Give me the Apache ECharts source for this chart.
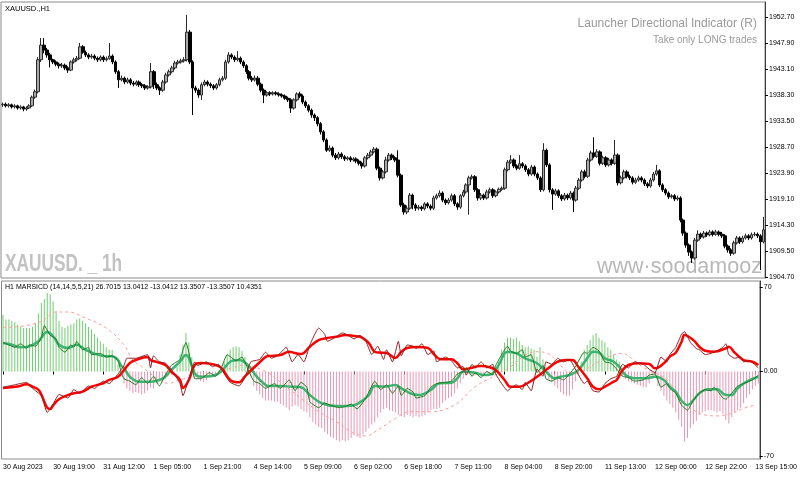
<!DOCTYPE html>
<html>
<head>
<meta charset="utf-8">
<script src="https://cdn.jsdelivr.net/npm/echarts@6.0.0/dist/echarts.min.js"></script>
<style>
html, body { margin: 0; padding: 0; background: #fff; }
#main { width: 800px; height: 477px; }
</style>
</head>
<body>
<div id="main"></div>
<script>
// XAUUSD H1, 30 Aug - 13 Sep 2023
var tickLabels = ['30 Aug 2023', '30 Aug 19:00', '31 Aug 12:00', '1 Sep 05:00', '1 Sep 21:00', '4 Sep 14:00',
  '5 Sep 09:00', '6 Sep 02:00', '6 Sep 18:00', '7 Sep 11:00', '8 Sep 04:00', '8 Sep 20:00',
  '11 Sep 13:00', '12 Sep 06:00', '12 Sep 22:00', '13 Sep 15:00'];
var priceTicks = [1904.70, 1909.50, 1914.30, 1919.10, 1923.90, 1928.70, 1933.50, 1938.30, 1943.10, 1947.90, 1952.70];
var oscTicks = [-70, 0, 70];

var firstOpen = 1936.5;
var closes = [1936.6,1936.3,1936.5,1936.1,1936.3,1935.9,1936.1,1935.7,1935.9,1936.3,
  1937.9,1938.9,1944.8,1947.5,1946.6,1945.7,1944.8,1944.4,1944.0,1943.7,
  1943.8,1943.3,1942.9,1944.4,1944.8,1945.1,1947.2,1946.2,1945.7,1945.3,
  1945.5,1945.1,1944.8,1945.3,1944.8,1945.0,1945.5,1944.4,1942.6,1941.1,
  1941.4,1940.7,1941.1,1940.5,1940.3,1940.7,1940.2,1940.0,1939.6,1939.8,
  1942.6,1940.2,1939.6,1939.2,1940.7,1942.0,1942.6,1943.3,1944.2,1944.4,
  1944.6,1944.8,1949.9,1944.4,1939.6,1939.2,1938.3,1940.2,1940.7,1940.3,
  1940.0,1939.6,1940.2,1941.1,1941.4,1944.4,1945.7,1945.3,1944.8,1945.1,
  1944.4,1943.7,1942.6,1941.4,1941.1,1941.4,1940.3,1939.2,1938.3,1938.7,
  1938.5,1938.7,1938.5,1938.3,1938.1,1937.7,1937.4,1935.9,1937.4,1938.5,
  1938.1,1937.0,1936.3,1935.5,1934.6,1934.1,1933.0,1931.5,1930.0,1928.1,
  1928.5,1927.2,1926.7,1927.4,1926.9,1926.5,1926.7,1926.3,1926.5,1926.1,
  1925.7,1925.2,1926.7,1927.2,1927.8,1928.3,1924.8,1923.0,1924.1,1926.3,
  1927.2,1926.7,1926.3,1923.5,1918.0,1916.7,1917.4,1919.8,1918.0,1917.4,
  1917.6,1917.3,1918.2,1917.8,1917.4,1919.3,1919.7,1920.2,1918.9,1918.4,
  1918.9,1919.7,1918.2,1917.6,1919.7,1920.4,1921.7,1923.0,1923.2,1920.8,
  1919.3,1919.8,1919.3,1920.4,1920.8,1919.7,1920.4,1920.9,1921.1,1924.5,
  1925.9,1926.3,1925.2,1924.8,1925.6,1925.2,1924.5,1923.7,1925.0,1923.7,
  1923.0,1920.8,1928.1,1925.4,1920.8,1920.0,1920.6,1919.7,1919.1,1919.8,
  1919.3,1920.2,1918.9,1921.1,1922.6,1924.1,1923.3,1926.3,1927.6,1927.0,
  1927.8,1925.7,1926.7,1925.4,1926.3,1925.7,1927.2,1922.1,1923.0,1924.1,
  1923.3,1923.0,1922.2,1922.6,1923.0,1922.6,1921.9,1921.5,1922.6,1923.7,
  1924.3,1921.7,1920.8,1920.2,1919.5,1919.7,1919.1,1919.3,1915.2,1912.8,
  1910.6,1909.3,1908.2,1911.5,1912.6,1912.1,1912.8,1912.5,1913.0,1912.6,
  1913.0,1912.6,1912.3,1910.4,1909.7,1909.1,1911.0,1911.9,1911.2,1911.9,
  1912.3,1911.9,1912.5,1912.6,1912.3,1911.2,1913.4];
var highs = [1936.9,1936.9,1936.8,1936.7,1936.6,1936.5,1936.4,1936.3,1936.2,1936.6,
  1938.2,1939.3,1945.3,1948.8,1948.8,1947.0,1946.1,1945.0,1944.7,1944.3,
  1944.2,1944.1,1943.6,1944.7,1945.2,1945.5,1947.9,1947.5,1946.5,1946.0,
  1945.9,1945.8,1945.4,1945.6,1945.6,1945.4,1947.9,1945.8,1944.7,1942.9,
  1941.9,1941.7,1941.5,1941.4,1940.9,1941.0,1941.0,1940.5,1940.3,1940.1,
  1944.2,1942.9,1940.6,1939.9,1941.1,1942.4,1943.0,1943.7,1944.6,1944.8,
  1945.0,1945.3,1953.1,1950.3,1944.7,1940.0,1939.5,1940.6,1941.1,1941.0,
  1940.6,1940.3,1940.5,1941.5,1941.8,1944.8,1946.2,1946.0,1945.6,1946.4,
  1945.4,1944.7,1944.0,1942.9,1941.8,1941.9,1941.8,1940.6,1939.5,1939.0,
  1939.0,1939.0,1939.0,1938.8,1938.6,1938.4,1938.0,1937.7,1937.7,1938.8,
  1938.9,1938.4,1937.3,1936.6,1935.8,1934.9,1934.4,1933.3,1931.8,1930.3,
  1929.0,1928.8,1927.6,1927.8,1927.7,1927.2,1927.0,1927.0,1926.8,1926.8,
  1926.4,1926.0,1927.0,1927.6,1928.2,1928.7,1928.6,1925.1,1924.5,1926.9,
  1927.6,1927.5,1927.0,1928.1,1923.8,1918.4,1917.9,1920.2,1920.1,1918.3,
  1918.0,1917.9,1918.5,1918.5,1918.1,1919.7,1920.1,1920.7,1920.5,1919.2,
  1919.3,1920.1,1920.0,1918.5,1920.0,1920.8,1922.0,1923.4,1923.6,1923.5,
  1921.1,1920.2,1920.1,1920.8,1921.2,1921.1,1920.7,1921.2,1921.4,1924.9,
  1926.3,1927.2,1926.6,1925.5,1927.2,1925.9,1925.5,1924.8,1925.4,1925.3,
  1924.0,1923.3,1929.4,1928.4,1925.7,1921.1,1921.0,1920.9,1920.0,1920.2,
  1920.1,1920.6,1920.5,1921.5,1923.0,1924.5,1924.5,1926.7,1928.0,1930.5,
  1928.3,1928.1,1927.1,1927.0,1926.7,1926.6,1930.0,1927.5,1923.4,1924.5,
  1924.4,1923.6,1923.3,1923.0,1923.4,1923.3,1922.9,1922.2,1923.0,1924.1,
  1925.4,1924.6,1922.0,1921.1,1920.5,1920.0,1920.0,1919.7,1919.6,1915.5,
  1913.1,1910.9,1909.6,1911.9,1913.3,1912.9,1913.2,1913.1,1913.4,1913.3,
  1913.4,1913.3,1913.0,1912.6,1910.7,1910.0,1911.4,1912.3,1912.2,1912.3,
  1912.7,1912.6,1912.9,1913.0,1912.9,1912.6,1915.8];
var lows = [1936.1,1936.0,1936.0,1935.8,1935.8,1935.6,1935.6,1935.3,1935.4,1935.7,
  1936.1,1937.6,1938.6,1944.4,1946.0,1945.2,1943.4,1944.0,1943.6,1943.2,
  1943.3,1942.9,1942.4,1942.7,1944.1,1944.5,1944.9,1945.9,1945.3,1944.9,
  1945.0,1944.7,1944.4,1944.5,1944.4,1944.5,1944.8,1944.0,1942.2,1939.6,
  1940.8,1940.3,1940.4,1940.1,1939.9,1940.0,1939.8,1939.6,1939.2,1939.3,
  1939.5,1939.4,1939.2,1938.3,1938.9,1940.4,1941.7,1942.3,1943.0,1943.9,
  1944.1,1944.3,1944.5,1944.0,1934.6,1938.7,1937.8,1937.4,1939.9,1939.9,
  1939.6,1939.2,1939.3,1939.9,1940.8,1941.1,1944.1,1944.9,1944.4,1944.5,
  1944.0,1943.3,1942.2,1941.0,1940.7,1940.8,1939.9,1938.8,1936.8,1938.0,
  1938.1,1938.2,1938.2,1938.0,1937.8,1937.4,1937.0,1935.0,1935.6,1937.1,
  1937.7,1936.6,1935.9,1935.1,1934.1,1933.5,1932.5,1931.0,1929.6,1927.8,
  1927.8,1926.8,1926.3,1926.4,1926.5,1926.1,1926.2,1925.9,1926.0,1925.7,
  1925.3,1924.7,1924.9,1926.4,1926.9,1927.5,1924.4,1922.5,1922.7,1923.8,
  1926.0,1926.3,1925.9,1923.1,1917.6,1916.2,1916.3,1917.1,1917.2,1916.9,
  1917.0,1916.9,1917.0,1917.4,1917.0,1917.1,1919.0,1919.4,1918.5,1918.0,
  1918.1,1918.6,1917.8,1917.1,1917.3,1919.4,1920.1,1916.2,1922.7,1920.4,
  1918.8,1918.9,1918.9,1919.0,1920.1,1919.3,1919.4,1920.1,1920.6,1920.8,
  1924.2,1925.6,1924.8,1924.4,1924.5,1924.8,1924.1,1923.3,1923.4,1923.3,
  1922.6,1920.4,1920.5,1925.0,1920.3,1917.1,1919.7,1919.3,1918.7,1918.8,
  1918.9,1919.0,1916.7,1918.6,1920.8,1922.3,1922.9,1923.0,1926.0,1926.6,
  1926.7,1925.3,1925.4,1925.0,1925.1,1925.3,1925.4,1921.6,1921.8,1922.7,
  1922.9,1922.6,1921.8,1921.9,1922.3,1922.2,1921.5,1921.1,1921.2,1922.3,
  1923.4,1921.3,1920.4,1919.8,1919.1,1919.2,1918.7,1918.8,1914.8,1912.3,
  1910.1,1908.6,1907.3,1907.9,1911.2,1911.7,1911.8,1912.1,1912.2,1912.2,
  1912.3,1912.2,1911.9,1910.0,1909.2,1908.6,1908.8,1910.7,1910.8,1910.9,
  1911.6,1911.5,1911.6,1912.2,1911.9,1906.0,1910.9];

// MARSICD histogram, one value per bar
var hist = [47,43,43,42,41,39,37,36,36,36,
  37,40,48,57,60,65,64,58,50,42,
  37,36,38,39,40,43,44,42,40,37,
  35,31,28,25,23,20,18,18,12,6,
  -4,-10,-14,-16,-18,-17,-18,-19,-18,-16,
  -13,-14,-10,-8,-7,-6,-4,-3,-2,4,
  14,22,32,24,12,2,-6,-8,-9,-7,
  -5,-4,-3,-2,2,8,14,18,20,21,
  20,17,12,5,-4,-12,-16,-19,-22,-24,
  -24,-24,-25,-25,-27,-28,-30,-32,-29,-28,
  -29,-31,-33,-34,-38,-42,-44,-46,-47,-50,
  -52,-54,-55,-57,-58,-57,-58,-57,-55,-53,
  -54,-55,-52,-50,-47,-44,-42,-38,-34,-31,
  -30,-32,-33,-34,-36,-37,-38,-36,-37,-38,
  -37,-38,-37,-36,-34,-32,-31,-31,-30,-26,
  -24,-22,-21,-18,-14,-10,-6,-3,-2,-4,
  -3,-2,-3,-2,-1,-2,1,3,8,18,
  24,28,28,27,28,25,22,20,21,19,
  18,12,20,10,4,-7,-9,-12,-14,-17,
  -19,-20,-20,-15,-8,-3,8,18,22,26,
  30,32,28,26,24,20,18,14,10,8,
  -4,-6,-8,-9,-10,-11,-12,-13,-13,-10,
  -6,-5,-12,-16,-20,-24,-27,-30,-34,-40,
  -46,-58,-55,-47,-44,-41,-36,-34,-33,-32,
  -32,-33,-34,-33,-35,-40,-43,-38,-34,-32,
  -30,-26,-22,-19,-15,-12,-10];

// indicator lines, [bar, value]
var redThick = [[0,-13.6],[5,-12.5],[8,-10.5],[10,-12.5],[12,-15],[13,-19],[14,-25],[15,-30],[16,-31],[17,-28],
  [19,-23],[22,-19.5],[24,-18],[27,-16.7],[30,-12.6],[34,-9.7],[36,-7],[39,-4.3],[41,1.2],[43,7],
  [45,9.5],[49,12],[50,9.5],[52,8],[55,5.4],[57,0],[60,-7],[61,-13.7],[63,-7],[65,5.4],
  [67,7],[71,6],[74,3],[77,-7],[80,-9],[82,-4],[86,5.4],[89,12],[90,12.8],[94,13.7],
  [97,16.4],[99,15.3],[101,14.5],[104,20.6],[107,26],[110,27.7],[113,28.8],[116,30.2],[119,29.4],[121,28.8],
  [124,23.6],[126,16.4],[128,15.6],[130,15.3],[133,11.2],[135,16.4],[137,19.5],[140,20.3],[144,19.5],[146,14.5],
  [148,10.4],[152,10.1],[154,6.8],[156,1.8],[158,2.6],[162,4.6],[165,3.5],[167,1.2],[170,-7],[172,-12.6],
  [175,-12.6],[178,-9.3],[181,-4.3],[184,1.2],[188,8.1],[191,9.5],[193,9.5],[195,4],[198,-5.6],[200,-12.6],
  [202,-14.7],[204,-12.6],[207,-8.4],[208,-7],[210,1.2],[212,5.4],[215,6.8],[219,6.2],[221,2.6],[224,6.8],
  [226,12.3],[228,15.6],[230,24.7],[231,30.2],[234,26],[236,20.5],[238,17.2],[241,16.4],[245,19.2],[246,20.5],
  [248,15.6],[251,9.5],[254,8.1],[256,5.4]];
var redThin = [[0,-13],[4,-11],[8,-9],[10,-14],[13,-20],[15,-34],[17,-27],[19,-19],[22,-22],[24,-15],
  [26,-18],[29,-12],[31,-14],[34,-8],[36,-10],[39,-2],[41,5],[42,11],[45,11],[49,14],
  [50,3],[51,13],[53,8],[55,7],[57,2],[60,-10],[61,-20],[63,-6],[65,8],[66,5],
  [69,8],[71,4],[73,6],[75,-2],[77,-9],[80,-12],[82,-5],[84,8],[87,10],[89,16],
  [91,11],[93,13],[96,20],[98,8],[100,14],[102,8],[104,22],[107,36],[109,31],[110,25],
  [113,29],[115,32],[117,30],[119,27],[121,30],[123,25],[125,14],[127,21],[129,10],[130,18],
  [132,8],[134,25],[135,13],[137,22],[139,21],[140,19],[142,23],[144,14],[146,17],[147,8],
  [150,12],[152,9],[154,3],[156,4],[157,-3],[159,6],[160,3],[162,8],[164,3],[166,6],
  [167,-2],[169,-10],[171,-16],[172,-14],[174,-11],[176,-15],[177,-9],[179,-16],[181,2],[183,-4],
  [184,8],[186,6],[188,11],[190,8],[192,10],[194,2],[197,-10],[198,-8],[200,-16],[202,-17],
  [204,-10],[206,-6],[208,-4],[210,6],[212,3],[214,8],[217,6],[219,2],[221,-1],[223,12],
  [225,8],[226,14],[228,20],[230,31],[231,33],[233,24],[235,19],[236,18],[238,14],[240,15],
  [241,16],[244,20],[245,23],[246,14],[248,11],[250,12],[251,8],[253,9],[256,3]];
var greenThick = [[0,23.6],[3,22.2],[6,20],[9,20.9],[12,25],[15,32.7],[17,29.2],[19,22.2],[22,19.5],[25,22.2],
  [28,18],[32,14],[35,12.6],[37,12.6],[39,9.5],[40,5],[41,2.9],[42,-1],[43,-4.3],[46,-8.4],
  [50,-8.4],[53,-7],[55,-4.3],[57,1.2],[60,8.1],[62,13.7],[63,11.2],[65,-1.5],[67,-4.3],[71,-3.7],
  [74,0],[77,8.1],[80,9.5],[83,5.4],[86,-4.3],[89,-11.2],[90,-12],[94,-12],[98,-12.6],[101,-13],
  [104,-19.5],[108,-26.3],[113,-28.6],[117,-28.6],[120,-27],[124,-19.5],[126,-12],[129,-12.6],[133,-11.2],[135,-13.9],
  [138,-18],[141,-19.5],[145,-15.3],[148,-9.8],[152,-9.3],[154,-5.6],[156,0],[160,-1],[163,-2.9],[166,-1.5],
  [168,5.4],[171,16.4],[174,15],[177,10.9],[181,6.8],[184,0],[187,-5.6],[189,-4.3],[192,-2.9],[195,1.2],
  [198,10.9],[200,16.4],[202,15.6],[204,10.9],[207,8.1],[209,3.5],[211,-2.9],[214,-5.6],[218,-5.6],[221,-4.3],
  [224,-7],[226,-12.6],[228,-16.7],[230,-24.2],[232,-27.8],[234,-23.6],[236,-18],[239,-14.7],[242,-14.7],[245,-19.5],
  [247,-19.5],[249,-13.9],[252,-8.4],[256,-4.3]];
var greenThin = [[0,24],[2,22],[4,20],[6,23],[8,19],[9,22],[11,21],[13,28],[14,38],[16,30],
  [18,27],[19,20],[21,16],[23,22],[24,20],[25,25],[27,18],[29,20],[30,14],[33,15],
  [35,12],[37,13],[39,9],[40,0],[41,-6],[43,-8],[45,-11],[47,-5],[49,-10],[51,-4],
  [53,-12],[55,-3],[57,5],[60,10],[61,18],[62,24],[64,5],[65,-6],[67,-6],[70,-1],
  [72,-4],[74,3],[76,14],[79,9],[81,12],[83,2],[85,-8],[87,-10],[89,-14],[92,-10],
  [94,-14],[97,-7],[99,-16],[101,-9],[103,-13],[104,-25],[107,-30],[109,-26],[111,-28],[114,-30],
  [116,-29],[118,-27],[120,-31],[123,-22],[124,-17],[126,-8],[128,-15],[130,-11],[132,-18],[134,-12],
  [135,-20],[137,-14],[139,-17],[140,-22],[143,-20],[145,-13],[147,-10],[150,-9],[152,-8],[154,-2],
  [156,0],[157,3],[159,-4],[160,-1],[162,-5],[164,0],[166,-3],[167,5],[169,14],[171,21],
  [172,17],[174,15],[176,18],[177,12],[179,14],[181,-1],[183,5],[184,-6],[186,-8],[188,-5],
  [190,-7],[192,-2],[194,4],[197,16],[198,15],[200,20],[202,17],[204,8],[206,7],[208,2],
  [210,-4],[212,-5],[214,-8],[217,-7],[219,-3],[221,-2],[223,-13],[225,-10],[226,-14],[228,-18],
  [230,-28],[232,-32],[234,-24],[236,-18],[238,-15],[240,-16],[241,-13],[244,-22],[245,-23],[247,-18],
  [249,-12],[251,-10],[254,-7],[256,-3]];
var signalLine = [[0,36.6],[6,37.4],[13,41.6],[18,49.3],[22,49.3],[28,44.3],[35,36],[41,22.2],[44,9.5],[47,4],
  [53,-7],[56,-9.8],[60,-7],[64,-4.3],[71,-2.9],[77,2.6],[82,5.4],[88,1.2],[90,-1.2],[96,-12.6],
  [101,-22.2],[107,-33.3],[113,-41.6],[118,-49.9],[123,-53.4],[127,-48.5],[133,-38.8],[138,-33.3],[145,-33.3],[153,-27.8],
  [160,-12.6],[164,-7],[168,-1.5],[173,5.4],[177,13.7],[181,16.4],[184,15.6],[188,8.1],[191,0],[194,-1.5],
  [200,5.4],[205,12.3],[210,15],[213,10.9],[217,3.5],[220,0],[225,-7],[229,-20.9],[234,-31.9],[238,-36],
  [242,-36.8],[247,-34.6],[251,-30.5],[255,-27.8]];

// category axis: one slot per bar, a date label every 17 bars
var cats = [];
var candles = [];
for (var i = 0; i < closes.length; i++) {
  cats.push(i % 17 === 0 ? tickLabels[i / 17] : String(i));
  var o = i === 0 ? firstOpen : closes[i - 1];
  candles.push([o, closes[i], lows[i], highs[i]]);
}

var FONT = 'Liberation Sans';
var chart = echarts.init(document.getElementById('main'), null, { renderer: 'canvas' });

var option = {
  animation: false,
  backgroundColor: '#ffffff',
  grid: [
    { left: 1, top: 2, width: 764, height: 276, show: true, borderColor: '#8a8a8a', borderWidth: 1 },
    { left: 1, top: 281, width: 764, height: 178, show: true, borderColor: '#8a8a8a', borderWidth: 1 }
  ],
  xAxis: [
    { gridIndex: 0, type: 'category', data: cats, boundaryGap: true,
      axisLine: { show: false }, axisTick: { show: false }, axisLabel: { show: false }, splitLine: { show: false } },
    { gridIndex: 1, type: 'category', data: cats, boundaryGap: true,
      axisLine: { show: false },
      axisTick: { show: true, interval: 16, alignWithLabel: true, length: 3, lineStyle: { color: '#000' } },
      axisLabel: { interval: 16, align: 'left', margin: 5, fontSize: 7, fontFamily: FONT, color: '#000' },
      splitLine: { show: false } }
  ],
  yAxis: [
    { gridIndex: 0, type: 'value', position: 'right', min: 1904.515, max: 1955.47,
      axisLine: { show: true, lineStyle: { color: '#3c3c3c' } },
      axisTick: { show: true, length: 3, customValues: priceTicks, lineStyle: { color: '#000' } },
      axisLabel: { customValues: priceTicks, margin: 4, fontSize: 7, fontFamily: FONT, color: '#000',
        formatter: function (v) { return v.toFixed(2); } },
      splitLine: { show: false } },
    { gridIndex: 1, type: 'value', position: 'right', min: -72.5, max: 75,
      axisLine: { show: true, lineStyle: { color: '#3c3c3c' } },
      axisTick: { show: true, length: 3, customValues: oscTicks, lineStyle: { color: '#000' } },
      axisLabel: { customValues: oscTicks, margin: 4, fontSize: 7, fontFamily: FONT, color: '#000',
        formatter: function (v) { return v === 0 ? '0.00' : String(v); } },
      splitLine: { show: false } }
  ],
  graphic: [
    { type: 'text', left: 5, top: 5, z: 10, style: { text: 'XAUUSD.,H1', fontSize: 7.5, fontFamily: FONT, fill: '#000' } },
    { type: 'text', right: 43, top: 18, z: 10, style: { text: 'Launcher Directional Indicator (R)', fontSize: 12, fontFamily: FONT, fill: '#9a9a9a' } },
    { type: 'text', right: 43, top: 35, z: 10, style: { text: 'Take only LONG trades', fontSize: 10, fontFamily: FONT, fill: '#9a9a9a' } },
    { type: 'text', x: 5, y: 252, scaleX: 0.72, z: 0, style: { text: 'XAUUSD. _ 1h', fontSize: 24, fontWeight: 'bold', fontFamily: FONT, fill: '#c2c2c2' } },
    { type: 'text', left: 597, top: 256, z: 0, style: { text: 'www·soodamooz', fontSize: 21.5, fontFamily: FONT, fill: '#b8b8b8' } },
    { type: 'text', left: 5, top: 284, z: 10, style: { text: 'H1 MARSICD (14,14,5,5,21) 26.7015 13.0412 -13.0412 13.3507 -13.3507 10.4351', fontSize: 7, fontFamily: FONT, fill: '#000' } }
  ],
  series: [
    { name: 'XAUUSD', type: 'candlestick', xAxisIndex: 0, yAxisIndex: 0, data: candles, barWidth: 3,
      itemStyle: { color: '#a8a8a8', color0: '#000000', borderColor: '#2a2a2a', borderColor0: '#000000', borderWidth: 1 } },
    { name: 'hist', type: 'bar', xAxisIndex: 1, yAxisIndex: 1, data: hist, barWidth: 1,
      itemStyle: { color: function (p) { return p.value >= 0 ? '#6fcd6f' : '#e996b4'; } } },
    { name: 'signal', type: 'line', xAxisIndex: 1, yAxisIndex: 1, data: signalLine, symbol: 'none', smooth: 0.4,
      lineStyle: { color: '#ff9c9c', width: 1, type: [3, 3] } },
    { name: 'greenThick', type: 'line', xAxisIndex: 1, yAxisIndex: 1, data: greenThick, symbol: 'none', smooth: 0.4,
      lineStyle: { color: '#3cb371', width: 2.5 } },
    { name: 'redThick', type: 'line', xAxisIndex: 1, yAxisIndex: 1, data: redThick, symbol: 'none', smooth: 0.4,
      lineStyle: { color: '#ff0000', width: 2.5 } },
    { name: 'greenThin', type: 'line', xAxisIndex: 1, yAxisIndex: 1, data: greenThin, symbol: 'none', smooth: 0.15,
      lineStyle: { color: '#1f7a1f', width: 1 } },
    { name: 'redThin', type: 'line', xAxisIndex: 1, yAxisIndex: 1, data: redThin, symbol: 'none', smooth: 0.15,
      lineStyle: { color: '#8e2323', width: 1 } }
  ]
};
chart.setOption(option);
</script>
</body>
</html>
